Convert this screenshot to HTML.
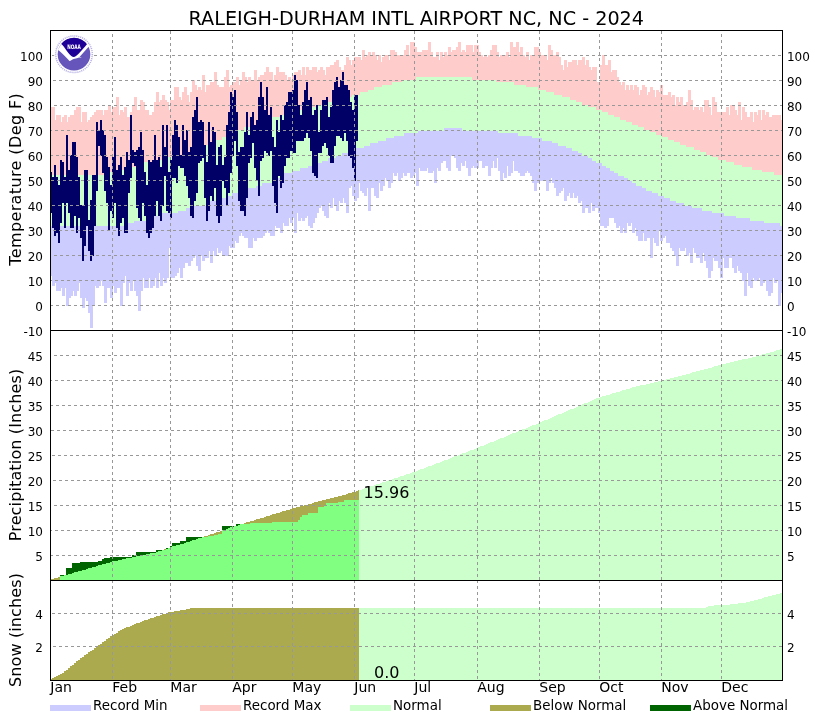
<!DOCTYPE html>
<html lang="en"><head><meta charset="utf-8"><title>RALEIGH-DURHAM INTL AIRPORT NC, NC - 2024</title>
<style>html,body{margin:0;padding:0;background:#fff}body{width:832px;height:720px;overflow:hidden}</style></head>
<body>
<svg width="832" height="720" viewBox="0 0 832 720" style="display:block">
<rect width="832" height="720" fill="#fff"/>
<g shape-rendering="crispEdges">
<path fill="#ffcccc" d="M50 107H55V120H56V115H61V122H62V117H64V115H67V122H68V117H70V115H74V110H76V107H81V122H82V112H87V122H88V120H90V117H92V115H94V112H96V110H103V115H104V110H108V105H111V112H112V107H116V97H119V115H120V110H123V112H124V107H127V117H130V112H132V105H134V97H137V110H140V100H143V102H145V110H149V115H152V112H154V102H156V92H159V102H160V100H162V95H165V100H167V102H169V110H170V100H174V87H179V97H181V100H182V92H184V87H187V95H189V102H190V92H192V80H195V85H197V90H198V87H201V90H202V75H205V92H206V85H210V82H214V72H217V85H219V87H224V77H226V70H229V87H230V85H232V82H236V77H239V85H240V80H242V72H245V77H247V82H248V77H251V80H254V70H257V80H258V77H260V75H264V72H266V67H269V72H273V80H274V75H276V67H279V72H285V75H287V80H288V77H291V80H292V75H294V72H298V70H301V75H302V67H305V75H306V67H309V70H312V67H317V72H318V70H320V67H323V70H325V75H326V67H330V65H334V62H336V60H339V67H341V70H344V65H346V57H349V60H351V65H352V60H354V57H361V60H362V50H365V57H366V55H368V52H371V55H372V52H375V55H377V60H378V55H381V62H382V57H384V55H389V60H390V50H395V52H397V55H404V50H406V45H409V55H410V42H415V47H417V52H422V50H428V42H431V52H433V57H436V52H439V60H440V52H443V57H444V52H447V55H448V47H451V52H452V50H456V47H458V42H461V52H462V50H465V52H466V45H473V52H474V45H479V52H481V55H483V57H484V55H487V57H488V55H490V50H492V45H497V52H499V57H500V55H506V52H509V57H510V42H513V47H516V42H519V52H520V47H523V55H525V57H526V52H529V60H530V55H534V47H539V52H541V55H547V60H548V45H551V50H553V55H556V52H559V57H561V65H563V70H564V60H567V67H568V62H572V60H577V65H578V60H582V57H585V65H586V60H589V67H591V70H592V67H597V82H600V65H602V55H605V65H608V60H611V72H612V70H617V77H619V82H621V85H622V82H625V90H626V85H629V90H630V85H633V90H634V85H637V87H639V95H640V90H642V85H645V87H647V95H648V92H650V87H653V90H655V97H656V90H659V92H660V85H663V95H668V92H671V97H672V95H675V105H676V97H679V102H680V97H683V105H686V102H688V90H691V100H693V110H694V107H699V110H700V107H703V112H704V100H709V107H711V115H712V97H715V102H717V112H726V107H729V115H730V105H735V110H737V115H738V102H741V120H742V107H745V112H747V117H750V112H753V122H754V112H757V115H758V110H761V120H762V110H765V115H766V112H769V117H772V115H781V120H782V175H774V172H762V170H752V167H742V165H734V162H726V160H718V157H712V155H706V152H700V150H694V147H686V145H680V142H674V140H668V137H662V135H656V132H650V130H644V127H638V125H632V122H626V120H620V117H614V115H608V112H602V110H596V107H588V105H582V102H576V100H570V97H562V95H554V92H546V90H538V87H526V85H514V82H496V80H472V77H416V80H402V82H392V85H382V87H374V90H368V92H360V95H352V97H346V100H336V102H324V105H316V107H306V110H296V112H290V115H280V117H270V120H264V122H258V125H252V127H244V130H238V132H234V135H228V137H222V140H216V142H210V145H204V147H198V150H192V152H184V155H174V157H164V160H154V162H144V165H136V167H126V170H116V172H106V175H50Z"/>
<path fill="#ccccff" d="M50 226H128V223H134V221H146V218H154V216H162V213H178V211H186V208H192V206H206V203H210V201H218V198H226V196H232V193H240V191H244V188H256V186H262V183H272V181H276V178H280V176H284V173H292V171H300V168H308V166H314V163H322V161H328V158H336V156H342V153H350V151H356V148H364V146H370V143H378V141H386V138H394V136H404V133H418V131H444V128H462V131H498V133H518V136H532V138H542V141H552V143H558V146H566V148H572V151H578V153H582V156H588V158H592V161H596V163H602V166H606V168H610V171H614V173H618V176H624V178H628V181H632V183H636V186H642V188H646V191H652V193H658V196H664V198H670V201H676V203H684V206H692V208H702V211H712V213H724V216H736V218H750V221H764V223H780V226H782V293H781V306H778V281H777V283H774V278H773V293H771V296H768V291H766V281H765V283H763V286H760V278H759V281H754V278H753V288H750V286H748V273H747V296H744V281H742V273H740V271H738V266H737V273H734V268H732V258H729V268H724V258H723V278H720V268H718V261H714V258H713V271H711V278H708V268H706V261H704V253H703V263H700V258H696V253H694V248H693V263H690V253H689V256H686V248H685V251H680V248H679V266H676V256H674V251H672V248H670V243H666V236H665V238H663V241H660V231H659V246H656V243H654V238H653V258H650V238H647V241H644V233H643V241H638V236H636V228H635V233H632V223H631V226H628V223H627V233H624V228H623V233H620V226H619V228H616V223H614V218H609V226H607V228H604V226H600V213H598V208H595V211H592V203H591V213H588V208H585V213H582V201H581V203H578V196H577V198H574V193H573V198H570V193H569V196H567V201H564V188H563V191H561V193H559V196H556V188H554V183H552V178H551V183H549V191H546V181H539V183H537V191H534V183H532V176H530V173H528V171H527V173H525V176H520V173H518V171H514V161H513V173H511V176H508V166H507V178H504V173H503V181H500V171H498V158H497V168H494V161H493V168H491V176H488V166H485V168H482V161H479V168H474V166H473V168H471V176H468V168H466V161H465V166H462V163H461V171H458V168H456V158H454V156H451V171H448V168H446V161H443V163H441V171H438V168H437V183H434V171H433V173H428V168H427V171H420V168H419V186H416V173H415V176H413V178H410V173H407V176H404V173H403V178H401V181H398V173H397V176H394V173H393V183H391V188H388V181H386V178H385V186H383V191H380V183H379V198H376V196H374V188H371V211H368V188H367V196H364V193H362V191H360V183H359V198H357V201H354V196H352V186H351V188H349V213H346V203H344V198H343V203H340V201H339V211H336V206H334V198H333V208H330V203H329V218H326V216H324V211H322V206H321V208H319V213H317V218H315V223H313V228H310V226H308V216H307V218H305V221H302V218H301V221H298V213H297V233H294V218H293V223H290V218H289V226H284V223H283V233H280V228H276V226H275V236H270V233H268V231H267V233H265V236H263V238H257V241H254V238H253V248H248V238H244V236H242V233H241V236H239V243H236V241H235V248H230V246H229V256H222V251H221V253H218V248H217V256H214V251H213V263H210V251H209V258H205V261H202V256H201V271H198V266H196V256H195V258H193V261H191V266H188V263H185V268H183V278H180V268H179V273H177V276H175V278H170V248H169V278H167V283H164V278H163V286H160V273H159V288H156V278H155V286H153V288H150V278H149V288H144V278H143V291H141V311H138V296H136V291H134V281H133V291H130V283H129V296H126V276H125V283H123V306H120V288H117V293H114V286H113V298H110V288H107V303H104V286H102V281H101V286H99V288H96V286H95V306H93V328H90V313H88V301H86V298H85V308H82V298H80V283H79V291H77V296H74V291H73V296H71V298H69V306H66V288H65V296H62V288H61V291H56V283H55V286H52V276H50Z"/>
<path fill="#ccffcc" d="M50 175H106V172H116V170H126V167H136V165H144V162H154V160H164V157H174V155H184V152H192V150H198V147H204V145H210V142H216V140H222V137H228V135H234V132H238V130H244V127H252V125H258V122H264V120H270V117H280V115H290V112H296V110H306V107H316V105H324V102H336V100H346V97H352V95H360V92H368V90H374V87H382V85H392V82H402V80H416V77H472V80H496V82H514V85H526V87H538V90H546V92H554V95H562V97H570V100H576V102H582V105H588V107H596V110H602V112H608V115H614V117H620V120H626V122H632V125H638V127H644V130H650V132H656V135H662V137H668V140H674V142H680V145H686V147H694V150H700V152H706V155H712V157H718V160H726V162H734V165H742V167H752V170H762V172H774V175H782V226H780V223H764V221H750V218H736V216H724V213H712V211H702V208H692V206H684V203H676V201H670V198H664V196H658V193H652V191H646V188H642V186H636V183H632V181H628V178H624V176H618V173H614V171H610V168H606V166H602V163H596V161H592V158H588V156H582V153H578V151H572V148H566V146H558V143H552V141H542V138H532V136H518V133H498V131H462V128H444V131H418V133H404V136H394V138H386V141H378V143H370V146H364V148H356V151H350V153H342V156H336V158H328V161H322V163H314V166H308V168H300V171H292V173H284V176H280V178H276V181H272V183H262V186H256V188H244V191H240V193H232V196H226V198H218V201H210V203H206V206H192V208H186V211H178V213H162V216H154V218H146V221H134V223H128V226H50Z"/>
<path fill="#000066" d="M50 172h2V213h-2zM52 177h2V228h-2zM54 165h2V236h-2zM56 177h2V233h-2zM58 185h2V243h-2zM60 160h2V223h-2zM62 162h2V203h-2zM64 177h2V228h-2zM66 135h2V203h-2zM68 170h2V213h-2zM70 155h2V228h-2zM72 142h2V228h-2zM74 142h2V216h-2zM76 157h2V233h-2zM78 177h2V218h-2zM80 205h2V238h-2zM82 205h2V261h-2zM84 170h2V246h-2zM86 170h2V226h-2zM88 220h2V251h-2zM90 200h2V261h-2zM92 175h2V256h-2zM94 175h2V226h-2zM96 122h2V191h-2zM98 130h2V146h-2zM100 120h2V156h-2zM102 130h2V173h-2zM104 135h2V191h-2zM106 157h2V203h-2zM108 167h2V231h-2zM110 185h2V211h-2zM112 157h2V218h-2zM114 137h2V203h-2zM116 170h2V228h-2zM118 165h2V236h-2zM120 157h2V223h-2zM122 175h2V218h-2zM124 167h2V233h-2zM126 152h2V233h-2zM128 160h2V193h-2zM130 115h2V178h-2zM132 150h2V163h-2zM134 152h2V166h-2zM136 150h2V208h-2zM138 147h2V218h-2zM140 132h2V221h-2zM142 150h2V203h-2zM144 172h2V216h-2zM146 185h2V233h-2zM148 160h2V238h-2zM150 162h2V233h-2zM152 160h2V228h-2zM154 135h2V216h-2zM156 160h2V201h-2zM158 157h2V216h-2zM160 167h2V221h-2zM162 125h2V206h-2zM164 147h2V176h-2zM166 125h2V211h-2zM168 172h2V213h-2zM170 160h2V218h-2zM172 135h2V178h-2zM174 120h2V178h-2zM176 125h2V183h-2zM178 137h2V166h-2zM180 155h2V168h-2zM182 125h2V168h-2zM184 140h2V176h-2zM186 130h2V186h-2zM188 152h2V198h-2zM190 147h2V216h-2zM192 117h2V218h-2zM194 110h2V201h-2zM196 97h2V193h-2zM198 122h2V163h-2zM200 120h2V161h-2zM202 122h2V158h-2zM204 145h2V198h-2zM206 162h2V221h-2zM208 122h2V211h-2zM210 142h2V196h-2zM212 127h2V201h-2zM214 132h2V188h-2zM216 165h2V216h-2zM218 147h2V223h-2zM220 145h2V216h-2zM222 165h2V181h-2zM224 157h2V188h-2zM226 125h2V206h-2zM228 112h2V193h-2zM230 92h2V173h-2zM232 97h2V156h-2zM234 90h2V141h-2zM236 112h2V166h-2zM238 152h2V201h-2zM240 147h2V211h-2zM242 147h2V211h-2zM244 132h2V216h-2zM246 112h2V198h-2zM248 135h2V163h-2zM250 117h2V158h-2zM252 112h2V143h-2zM254 125h2V168h-2zM256 120h2V181h-2zM258 97h2V196h-2zM260 82h2V161h-2zM262 97h2V158h-2zM264 110h2V151h-2zM266 87h2V153h-2zM268 115h2V156h-2zM270 107h2V151h-2zM272 137h2V186h-2zM274 147h2V203h-2zM276 120h2V213h-2zM278 132h2V176h-2zM280 115h2V188h-2zM282 120h2V183h-2zM284 105h2V166h-2zM286 102h2V158h-2zM288 92h2V158h-2zM290 92h2V151h-2zM292 90h2V153h-2zM294 75h2V153h-2zM296 80h2V141h-2zM298 105h2V141h-2zM300 115h2V141h-2zM302 102h2V141h-2zM304 90h2V138h-2zM306 82h2V133h-2zM308 100h2V138h-2zM310 97h2V151h-2zM312 115h2V173h-2zM314 110h2V176h-2zM316 105h2V178h-2zM318 132h2V153h-2zM320 110h2V153h-2zM322 100h2V146h-2zM324 100h2V143h-2zM326 97h2V148h-2zM328 117h2V156h-2zM330 107h2V163h-2zM332 90h2V163h-2zM334 82h2V146h-2zM336 77h2V136h-2zM338 87h2V136h-2zM340 80h2V138h-2zM342 72h2V141h-2zM344 85h2V133h-2zM346 85h2V141h-2zM348 90h2V156h-2zM350 102h2V158h-2zM352 110h2V168h-2zM354 95h2V181h-2zM356 95h2V141h-2z"/>
<path fill="#ccffcc" d="M359 490H362V489H364V488H368V487H370V486H374V485H376V484H380V483H382V482H386V481H388V480H392V479H394V478H398V477H400V476H404V475H406V474H410V473H412V472H416V471H418V470H420V469H424V468H426V467H428V466H432V465H434V464H436V463H440V462H442V461H444V460H448V459H450V458H452V457H454V456H458V455H460V454H462V453H466V452H468V451H470V450H474V449H476V448H478V447H480V446H484V445H486V444H488V443H490V442H494V441H496V440H498V439H500V438H504V437H506V436H508V435H510V434H512V433H516V432H518V431H520V430H522V429H526V428H528V427H530V426H532V425H536V424H538V423H540V422H542V421H544V420H548V419H550V418H552V417H554V416H556V415H558V414H562V413H564V412H566V411H568V410H570V409H574V408H576V407H578V406H580V405H582V404H584V403H588V402H590V401H592V400H594V399H596V398H600V397H602V396H606V395H610V394H612V393H616V392H620V391H622V390H626V389H630V388H632V387H636V386H640V385H646V384H650V383H654V382H658V381H662V380H666V379H670V378H674V377H678V376H682V375H686V374H690V373H692V372H696V371H700V370H704V369H708V368H712V367H714V366H718V365H722V364H726V363H730V362H734V361H738V360H742V359H748V358H752V357H756V356H760V355H762V354H766V353H770V352H774V351H776V350H780V349H782V580H359Z"/>
<path fill="#80ff80" d="M50 580H60V576H64V575H68V574H72V573H74V572H78V571H82V570H86V569H88V568H92V567H96V566H98V565H102V564H106V563H110V562H112V561H118V560H122V559H126V558H132V557H136V556H142V555H146V554H150V553H156V552H158V551H162V550H166V549H168V548H170V547H172V546H176V545H180V544H184V543H186V542H190V541H192V540H196V539H198V538H202V537H208V536H214V535H218V534H222V530H226V529H228V528H230V527H234V526H238V525H240V524H250V523H272V522H298V520H300V517H302V515H308V513H318V507H324V505H326V503H338V502H344V500H359V580H50Z"/>
<path fill="#006400" d="M60 575H64V576H60ZM66 568H72V563H80V562H98V561H102V559H104V558H110V557H132V555H136V552H156V550H162V551H158V552H156V553H150V554H146V555H142V556H136V557H132V558H126V559H122V560H118V561H112V562H110V563H106V564H102V565H98V566H96V567H92V568H88V569H86V570H82V571H78V572H74V573H72V574H68V575H66ZM166 548H168V549H166ZM170 546H172V543H180V541H186V537H202V538H198V539H196V540H192V541H190V542H186V543H184V544H180V545H176V546H172V547H170ZM222 526H234V527H230V528H228V529H226V530H222ZM236 524H240V525H238V526H236Z"/>
<path fill="#acaa4e" d="M50 579H54V578H58V577H60V580H50ZM164 549H166V550H164ZM204 536H208V535H210V534H214V533H216V532H220V531H222V534H218V535H214V536H208V537H204ZM244 523H246V522H250V521H254V520H256V519H260V518H264V517H266V516H270V515H272V514H276V513H280V512H282V511H286V510H290V509H292V508H296V507H300V506H304V505H308V504H312V503H314V502H318V501H322V500H326V499H330V498H334V497H338V496H342V495H346V494H348V493H352V492H356V491H358V490H359V500H344V502H338V503H326V505H324V507H318V513H308V515H302V517H300V520H298V522H272V523H250V524H244Z"/>
<path fill="#acaa4e" d="M50 679H52V678H54V677H56V676H58V675H60V674H62V673H64V671H66V670H68V668H70V666H72V665H74V663H76V661H78V660H80V658H82V657H84V655H86V654H88V652H90V651H92V650H94V648H96V647H98V645H100V644H102V642H104V641H106V639H108V638H110V636H112V635H114V634H116V633H118V631H120V630H122V629H124V628H126V627H130V626H132V625H134V624H136V623H140V622H142V621H144V620H148V619H150V618H154V617H156V616H160V615H162V614H166V613H168V612H174V611H180V610H186V609H190V608H359V680H50Z"/>
<path fill="#ccffcc" d="M359 608H706V607H708V606H714V605H730V604H738V603H746V602H750V601H754V600H758V599H762V598H764V597H768V596H772V595H776V594H780V593H782V680H359Z"/>
<path fill="none" stroke="#989898" stroke-width="1" stroke-dasharray="3 3" stroke-dashoffset="0" d="M51 180.5H782M51 430.5H782M170.5 31V680M292.5 31V680M414.5 31V680M539.5 31V680M661.5 31V680"/>
<path fill="none" stroke="#989898" stroke-width="1" stroke-dasharray="3 3" stroke-dashoffset="1" d="M51 305.5H782M51 155.5H782M51 555.5H782M51 405.5H782"/>
<path fill="none" stroke="#989898" stroke-width="1" stroke-dasharray="3 3" stroke-dashoffset="2" d="M51 280.5H782M51 130.5H782M51 530.5H782M51 380.5H782"/>
<path fill="none" stroke="#989898" stroke-width="1" stroke-dasharray="3 3" stroke-dashoffset="3" d="M51 255.5H782M51 105.5H782M51 505.5H782M51 355.5H782M112.5 31V680M232.5 31V680M354.5 31V680M477.5 31V680M599.5 31V680M721.5 31V680"/>
<path fill="none" stroke="#989898" stroke-width="1" stroke-dasharray="3 3" stroke-dashoffset="4" d="M51 230.5H782M51 80.5H782M51 480.5H782M51 646.5H782"/>
<path fill="none" stroke="#989898" stroke-width="1" stroke-dasharray="3 3" stroke-dashoffset="5" d="M51 205.5H782M51 55.5H782M51 455.5H782M51 613.5H782"/>
<path fill="none" stroke="#000" stroke-width="1" d="M50.5 30V681M782.5 30V681M50 30.5H783M50 330.5H783M50 580.5H783M50 680.5H783"/>
<rect x="50" y="705" width="41" height="6" fill="#ccccff"/>
<rect x="200" y="705" width="41" height="6" fill="#ffcccc"/>
<rect x="350" y="705" width="41" height="6" fill="#ccffcc"/>
<rect x="490" y="705" width="41" height="6" fill="#acaa4e"/>
<rect x="650" y="705" width="41" height="6" fill="#006400"/>
</g>
<rect x="54.2" y="34" width="39.6" height="40.4" fill="#fff"/>
<g transform="translate(74 54.2)">
<circle r="18.3" fill="none" stroke="#8f86d6" stroke-width="1.5" stroke-dasharray="1.1 0.9" opacity="0.65"/>
<circle r="16.3" fill="#6655bb"/>
<path d="M-12.8 -10.3L-16.1 -4.1C-15.5 -3.8 -14.9 -3.4 -14.3 -2.9C-13 -1.8 -11.7 -0.6 -10.5 0.6C-9.2 1.9 -7.9 3.2 -6.6 4.5C-6 5.2 -5.3 6 -4.6 6.9C-3.9 6.8 -3.3 6.5 -2.7 6.1C-1.9 5.6 -1.1 5.2 -0.35 4.9C0.4 4.7 1.2 4.5 2 4.3C3 4 4.1 3.7 5.1 3.4C6 3.2 6.9 3.1 7.9 3C7.1 2.8 6.3 2.7 5.5 2.7C6.4 1.8 7.3 0.8 8.2 -0.2C9.2 -1.4 10.3 -2.6 11.3 -3.7C12.3 -4.9 13.4 -6.1 14.4 -7.2L15.9 -8.6L12.9 -9.9Z" fill="#fff"/>
<path d="M-12.8 -10.3A16.3 16.3 0 0 1 12.9 -9.9L11.3 -7.9L8.2 -4.4L5.1 -0.9C4 0.2 3 1.1 2 1.8C1.2 2.3 0.4 2.7 -0.35 2.7C-1.1 2.7 -1.9 2.4 -2.7 1.8C-3.6 1.1 -4.5 0.2 -5.4 -0.9C-6.2 -1.9 -7 -2.9 -7.7 -4C-8.6 -5.3 -9.5 -6.7 -10.5 -7.9C-11.2 -8.8 -12 -9.6 -12.8 -10.3Z" fill="#1f0096"/>
<text x="0" y="-5.3" font-family="'DejaVu Sans','Liberation Sans',sans-serif" font-weight="bold" font-size="6.2" text-anchor="middle" fill="#fff" textLength="13.6" lengthAdjust="spacingAndGlyphs">NOAA</text>
</g>
<g font-family="'DejaVu Sans','Liberation Sans',sans-serif" fill="#000">
<text x="416.3" y="25" font-size="19.2" text-anchor="middle">RALEIGH-DURHAM INTL AIRPORT NC, NC - 2024</text>
<g font-size="12">
<text x="43" y="336.3" text-anchor="end">-10</text><text x="786.9" y="336.3">-10</text>
<text x="43" y="311.3" text-anchor="end">0</text><text x="786.9" y="311.3">0</text>
<text x="43" y="286.3" text-anchor="end">10</text><text x="786.9" y="286.3">10</text>
<text x="43" y="261.3" text-anchor="end">20</text><text x="786.9" y="261.3">20</text>
<text x="43" y="236.3" text-anchor="end">30</text><text x="786.9" y="236.3">30</text>
<text x="43" y="211.3" text-anchor="end">40</text><text x="786.9" y="211.3">40</text>
<text x="43" y="186.3" text-anchor="end">50</text><text x="786.9" y="186.3">50</text>
<text x="43" y="161.3" text-anchor="end">60</text><text x="786.9" y="161.3">60</text>
<text x="43" y="136.3" text-anchor="end">70</text><text x="786.9" y="136.3">70</text>
<text x="43" y="111.3" text-anchor="end">80</text><text x="786.9" y="111.3">80</text>
<text x="43" y="86.3" text-anchor="end">90</text><text x="786.9" y="86.3">90</text>
<text x="43" y="61.3" text-anchor="end">100</text><text x="786.9" y="61.3">100</text>
<text x="43" y="561.3" text-anchor="end">5</text><text x="786.9" y="561.3">5</text>
<text x="43" y="536.3" text-anchor="end">10</text><text x="786.9" y="536.3">10</text>
<text x="43" y="511.3" text-anchor="end">15</text><text x="786.9" y="511.3">15</text>
<text x="43" y="486.3" text-anchor="end">20</text><text x="786.9" y="486.3">20</text>
<text x="43" y="461.3" text-anchor="end">25</text><text x="786.9" y="461.3">25</text>
<text x="43" y="436.3" text-anchor="end">30</text><text x="786.9" y="436.3">30</text>
<text x="43" y="411.3" text-anchor="end">35</text><text x="786.9" y="411.3">35</text>
<text x="43" y="386.3" text-anchor="end">40</text><text x="786.9" y="386.3">40</text>
<text x="43" y="361.3" text-anchor="end">45</text><text x="786.9" y="361.3">45</text>
<text x="43" y="652.3" text-anchor="end">2</text><text x="786.9" y="652.3">2</text>
<text x="43" y="619.3" text-anchor="end">4</text><text x="786.9" y="619.3">4</text>
</g>
<g font-size="14">
<text x="50.3" y="692.4">Jan</text>
<text x="112.3" y="692.4">Feb</text>
<text x="170.3" y="692.4">Mar</text>
<text x="232.3" y="692.4">Apr</text>
<text x="292.3" y="692.4">May</text>
<text x="354.3" y="692.4">Jun</text>
<text x="414.3" y="692.4">Jul</text>
<text x="477.3" y="692.4">Aug</text>
<text x="539.3" y="692.4">Sep</text>
<text x="599.3" y="692.4">Oct</text>
<text x="661.3" y="692.4">Nov</text>
<text x="721.3" y="692.4">Dec</text>
</g>
<g font-size="16" text-anchor="middle">
<text transform="translate(21 179.5) rotate(-90)" textLength="172.5" lengthAdjust="spacing">Temperature (Deg F)</text>
<text transform="translate(21 455) rotate(-90)" textLength="172.5" lengthAdjust="spacing">Precipitation (Inches)</text>
<text transform="translate(21 630) rotate(-90)" textLength="114" lengthAdjust="spacing">Snow (inches)</text>
<text x="386.5" y="498">15.96</text><text x="386.7" y="677.8">0.0</text>
</g>
<g font-size="13.45">
<text x="93" y="710.1">Record Min</text>
<text x="243" y="710.1">Record Max</text>
<text x="393" y="710.1">Normal</text>
<text x="533" y="710.1">Below Normal</text>
<text x="693" y="710.1">Above Normal</text>
</g>
</g>
</svg>
</body></html>
